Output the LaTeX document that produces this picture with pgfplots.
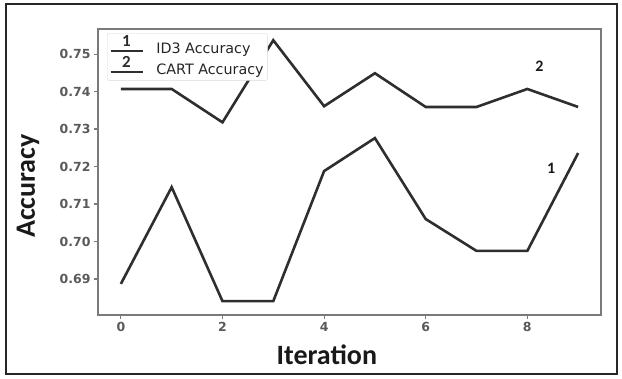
\documentclass[border=0pt]{standalone}
\usepackage{pgfplots}
\pgfplotsset{compat=1.18}
\usepackage{fontspec}
\setmainfont{Carlito}
\newfontfamily\dejavu{DejaVu Sans}
\definecolor{lc}{HTML}{2E2E2E}
\definecolor{tc}{HTML}{5A5A5A}
\definecolor{ac}{HTML}{7A7A7A}
\begin{document}
\begin{tikzpicture}[x=1bp,y=1bp]
\useasboundingbox (0,0) rectangle (622,378);
\draw[line width=2.2bp,black!85] (6,4) rectangle (617,374);
\begin{axis}[
  at={(98bp,63bp)}, anchor=south west,
  scale only axis, width=503bp, height=286bp,
  xmin=-0.45, xmax=9.45, ymin=0.6804, ymax=0.7567,
  xtick={0,2,4,6,8},
  ytick={0.69,0.70,0.71,0.72,0.73,0.74,0.75},
  yticklabel style={/pgf/number format/.cd,fixed,fixed zerofill,precision=2},
  /pgf/number format/assume math mode=true,
  ticklabel style={font=\dejavu\bfseries\fontsize{12.5bp}{14bp}\selectfont, text=tc},
  tick style={ac, line width=1.2bp},
  tick align=outside, major tick length=4bp,
  xtick pos=bottom, ytick pos=left,
  axis line style={ac, line width=2bp},
  xlabel={Iteration}, ylabel={Accuracy},
  label style={font=\bfseries\fontsize{28bp}{30bp}\selectfont, text=black!90},
  xlabel style={at={(axis description cs:0.455,-0.14)}, anchor=center},
  ylabel style={at={(axis description cs:-0.139,0.451)}, anchor=center, rotate=0},
  legend style={at={(axis description cs:0.018,0.985)}, anchor=north west,
    draw=black!15, rounded corners=2bp, font=\dejavu\fontsize{14.3bp}{15bp}\selectfont,
    text=black!85, row sep=-1bp, inner sep=2bp,
    /tikz/every odd column/.append style={column sep=10.5bp}},
  legend cell align=left,
]
\addplot[lc, line width=2.6bp,
  legend image code/.code={
    \draw[lc, line width=2.6bp] (0,-1.5bp) -- (32bp,-1.5bp);
    \node[font=\bfseries\fontsize{17bp}{17bp}\selectfont, anchor=south, inner sep=0pt] at (16bp,0bp) {1};}]
  coordinates {(0,0.6887) (1,0.7145) (2,0.6841) (3,0.6841) (4,0.7188) (5,0.7276) (6,0.7060) (7,0.6975) (8,0.6975) (9,0.7236)};
\addlegendentry{ID3 Accuracy}
\addplot[lc, line width=2.6bp,
  legend image code/.code={
    \draw[lc, line width=2.6bp] (0,-1.5bp) -- (32bp,-1.5bp);
    \node[font=\bfseries\fontsize{17bp}{17bp}\selectfont, anchor=south, inner sep=0pt] at (16bp,0bp) {2};}]
  coordinates {(0,0.7407) (1,0.7407) (2,0.7318) (3,0.7537) (4,0.7361) (5,0.7449) (6,0.7359) (7,0.7359) (8,0.7407) (9,0.7359)};
\addlegendentry{CART Accuracy}
\node[font=\bfseries\fontsize{16bp}{16bp}\selectfont, text=black!90] at (axis cs:8.47,0.7195) {1};
\node[font=\bfseries\fontsize{16bp}{16bp}\selectfont, text=black!90] at (axis cs:8.24,0.7468) {2};
\end{axis}
\end{tikzpicture}
\end{document}
